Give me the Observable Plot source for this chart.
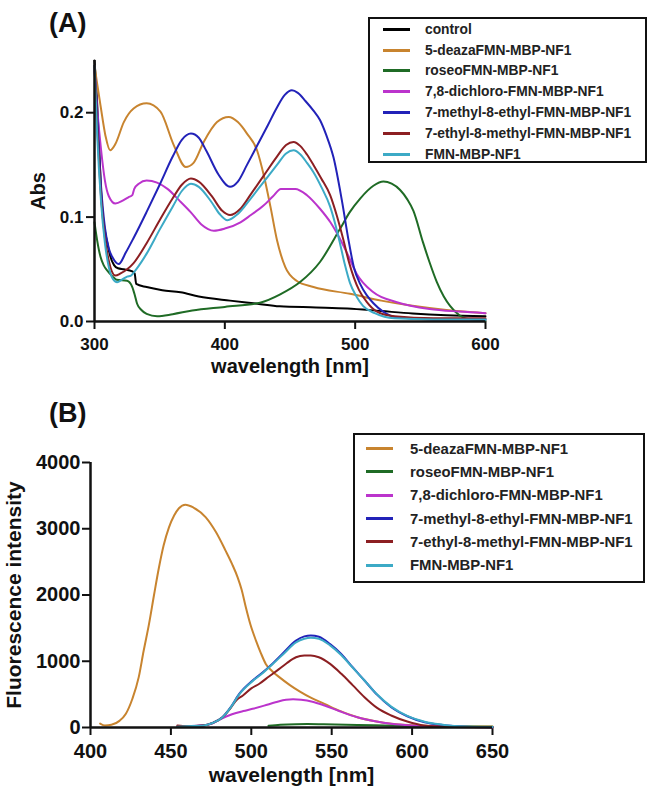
<!DOCTYPE html>
<html>
<head>
<meta charset="utf-8">
<script src="https://cdn.jsdelivr.net/npm/d3@7"></script>
<script src="https://cdn.jsdelivr.net/npm/@observablehq/plot@0.6"></script>
<style>
  html, body { margin: 0; padding: 0; background: #fff; }
  #root { position: relative; width: 648px; height: 800px; background: #fff; font-family: "Liberation Sans", Arial, sans-serif; overflow: hidden; }
  .panel { position: absolute; left: 0; }
  .ptitle { position: absolute; font-size: 27px; font-weight: bold; line-height: 27px; color: #111; }
  .legend { position: absolute; box-sizing: border-box; border: 2px solid #111; background: #fff; font-weight: bold; color: #222; }
  .legend .row { display: flex; align-items: center; white-space: nowrap; }
  .legend .sw { display: inline-block; height: 3px; flex: none; }
</style>
</head>
<body>
<div id="root">
  <div id="plotA" class="panel" style="top:0"></div>
  <div id="plotB" class="panel" style="top:390px"></div>
  <div class="ptitle" style="left:49px;top:10px">(A)</div>
  <div class="ptitle" style="left:49px;top:400px">(B)</div>
  <div id="legendA" class="legend" style="left:368px;top:17px;width:279px;height:146px;padding-top:0px;"></div>
  <div id="legendB" class="legend" style="left:353px;top:433px;width:292px;height:150px;padding-top:2px;"></div>
</div>
<script>
// ---------- series names & colours ----------
const seriesNames = [
  "control",
  "5-deazaFMN-MBP-NF1",
  "roseoFMN-MBP-NF1",
  "7,8-dichloro-FMN-MBP-NF1",
  "7-methyl-8-ethyl-FMN-MBP-NF1",
  "7-ethyl-8-methyl-FMN-MBP-NF1",
  "FMN-MBP-NF1"
];
const seriesColors = ["#000000", "#c8842f", "#1f6b25", "#bb34cc", "#2222b8", "#8c1f22", "#3caac6"];

// ---------- panel A: absorbance [wavelength nm, Abs] ----------
const absControl = [[300,0.25],[302,0.21],[303.5,0.17],[305,0.125],[307,0.095],[309.7,0.076],[312,0.063],[315,0.054],[318,0.051],[322.5,0.050],[329,0.048],[330.8,0.046],[332,0.036],[340,0.033],[352,0.030],[366,0.028],[380,0.024],[404,0.020],[425,0.017],[442,0.0145],[470,0.0135],[494,0.0125],[520,0.010],[544,0.0077],[570,0.006],[600,0.005]];
const absDeaza = [[300,0.245],[302,0.228],[304.6,0.207],[308.4,0.178],[312,0.164],[316,0.170],[322.5,0.191],[330,0.204],[340,0.209],[350.6,0.201],[360.8,0.169],[370,0.148],[376,0.152],[383.8,0.172],[394,0.191],[403,0.196],[410,0.191],[417,0.180],[424.7,0.164],[429.7,0.141],[435,0.110],[440,0.078],[446.4,0.052],[455,0.039],[468,0.033],[496,0.0265],[520,0.020],[544,0.015],[570,0.011],[600,0.008]];
const absRoseo = [[300,0.095],[302,0.078],[304.6,0.062],[307,0.054],[309.7,0.049],[314,0.043],[317,0.040],[325,0.039],[329,0.033],[331,0.025],[332.7,0.017],[336,0.011],[340,0.0073],[348,0.005],[360,0.007],[375,0.0105],[400,0.014],[427,0.018],[442.5,0.026],[458,0.038],[473,0.057],[488.5,0.089],[496,0.105],[504,0.118],[514,0.130],[521.7,0.134],[528,0.132],[534.5,0.126],[540,0.117],[544.7,0.106],[552,0.076],[557,0.057],[562.6,0.038],[568,0.024],[572.8,0.015],[580,0.006],[585.6,0.0026],[600,0.001]];
const absDichloro = [[300,0.24],[302,0.205],[305,0.165],[308,0.135],[311,0.12],[316,0.113],[322,0.116],[326,0.119],[329,0.121],[330.5,0.127],[334,0.132],[340,0.135],[348,0.133],[356,0.127],[365,0.116],[373.6,0.105],[382,0.093],[391.5,0.087],[400,0.089],[412,0.095],[420,0.102],[429.7,0.111],[437,0.120],[443,0.127],[454,0.127],[463,0.121],[473,0.108],[481,0.095],[488,0.080],[494,0.065],[501,0.046],[514,0.028],[532,0.0185],[557,0.012],[580,0.0095],[600,0.008]];
const absMethylEthyl = [[300,0.245],[302,0.2],[305,0.13],[308,0.09],[311,0.07],[314,0.061],[318.6,0.055],[324,0.066],[330,0.080],[340,0.105],[350,0.131],[360,0.158],[367,0.174],[374,0.180],[380,0.176],[386,0.163],[395,0.141],[404,0.129],[410,0.134],[417,0.150],[425,0.169],[433,0.188],[440,0.205],[446,0.217],[451.5,0.2215],[456,0.219],[462,0.211],[468,0.202],[473,0.193],[478,0.178],[483.4,0.157],[489.8,0.116],[494.9,0.078],[499,0.052],[503.8,0.036],[509,0.025],[514,0.0175],[522,0.009],[532,0.004],[560,0.002],[600,0.002]];
const absEthylMethyl = [[300,0.245],[302,0.19],[305,0.12],[308,0.08],[311,0.058],[316,0.044],[320,0.046],[325,0.05],[330,0.056],[340,0.075],[350,0.097],[360,0.118],[367,0.131],[374,0.137],[380,0.134],[390,0.120],[398,0.106],[404,0.102],[412,0.108],[420,0.122],[430,0.140],[440,0.158],[447,0.169],[452.7,0.172],[458,0.168],[463,0.160],[468,0.150],[474,0.137],[480.8,0.121],[486,0.101],[491,0.078],[495,0.058],[499,0.042],[503,0.030],[509,0.0185],[516,0.010],[530,0.005],[560,0.003],[600,0.003]];
const absFMN = [[300,0.245],[302,0.18],[305,0.115],[308,0.075],[311,0.052],[314,0.041],[317.4,0.0377],[321,0.040],[325,0.043],[328,0.044],[332,0.050],[340,0.065],[350,0.088],[360,0.110],[367,0.125],[374,0.132],[380,0.129],[390,0.114],[396,0.103],[402,0.097],[410,0.103],[420,0.118],[430,0.134],[440,0.150],[447,0.161],[452.7,0.164],[458,0.160],[463,0.152],[468,0.143],[474,0.129],[480.8,0.110],[485,0.092],[488.5,0.074],[492,0.055],[496,0.037],[501,0.024],[506,0.015],[515,0.008],[530,0.003],[560,0.002],[600,0.002]];

// ---------- panel B: fluorescence [wavelength nm, intensity] ----------
const flDeaza = [[406,60],[409,30],[413,40],[418,100],[422,207],[426,430],[430,760],[433,1150],[436.4,1564],[439.5,2000],[442.6,2418],[445.5,2750],[448.8,3021],[452,3200],[455,3310],[459,3363],[464,3320],[471.7,3172],[478,2950],[484,2670],[488,2470],[491.5,2267],[494,2080],[496.6,1815],[499.5,1550],[502.9,1312],[506,1120],[509,960],[513,850],[517.4,760],[524,640],[530,545],[537,450],[545.5,357],[555,250],[566,155],[577,95],[587,56],[600,35],[620,22],[650,15]];
const flRoseo = [[510.7,25],[518,40],[527.8,50],[535,52],[545,48],[566,38],[590,25],[620,15],[650,10]];
const flDichloro = [[455,10],[462,18],[470,30],[476,65],[482,140],[486,181],[490,215],[495,248],[500.8,282],[508,330],[515,380],[521.6,420],[526,425],[531,418],[538,390],[545.5,332],[555,245],[566,155],[577,95],[587,56],[600,30],[620,15],[650,5]];
const flMethylEthyl = [[454,15],[460,20],[469.6,30],[476,70],[482,155],[487,300],[492.5,508],[500.8,709],[507,830],[513,960],[520,1130],[527.8,1312],[533,1375],[537,1390],[542,1370],[549,1260],[555.9,1111],[563,910],[570.4,709],[578,500],[587,306],[597,170],[607.8,80],[618,40],[628.6,15],[650,5]];
const flEthylMethyl = [[454,30],[460,22],[469.6,30],[476,68],[482,150],[487,290],[491,420],[494.6,480],[500,590],[505,660],[511,770],[517.4,885],[522,970],[527.8,1060],[533,1085],[537,1086],[542,1060],[549,960],[556,810],[563,640],[570.4,457],[578,300],[587,181],[597,90],[607.6,30],[620,12],[650,5]];
const flFMN = [[454,10],[460,18],[469.6,28],[476,68],[482,150],[487,295],[492.5,500],[500.8,700],[507,820],[513,950],[520,1110],[527.8,1285],[533,1340],[537,1355],[542,1340],[549,1240],[555.9,1095],[563,905],[570.4,710],[578,505],[587,315],[597,175],[607.8,88],[618,45],[628.6,18],[650,6]];

// ---------- ticks ----------
const absXTicks = [300, 400, 500, 600];
const absYTicks = [0, 0.1, 0.2];
const flXTicks = [400, 450, 500, 550, 600, 650];
const flYTicks = [0, 1000, 2000, 3000, 4000];

// ---------- tables ----------
const toRows = (pairs) => pairs.flatMap(([series, pts]) => pts.map(([nm, v]) => ({series, nm, v})));
const absData = toRows([
  [seriesNames[0], absControl], [seriesNames[1], absDeaza], [seriesNames[2], absRoseo],
  [seriesNames[3], absDichloro], [seriesNames[4], absMethylEthyl], [seriesNames[5], absEthylMethyl],
  [seriesNames[6], absFMN]
]);
const flData = toRows([
  [seriesNames[1], flDeaza], [seriesNames[2], flRoseo], [seriesNames[3], flDichloro],
  [seriesNames[4], flMethylEthyl], [seriesNames[5], flEthylMethyl], [seriesNames[6], flFMN]
]);

const svgStyle = "font-family:'Liberation Sans',Arial,sans-serif;font-weight:bold;background:transparent;overflow:visible;color:#111;";

const plotA = Plot.plot({
  width: 648, height: 390,
  marginLeft: 94, marginRight: 163, marginTop: 60, marginBottom: 69,
  style: svgStyle,
  x: {domain: [300, 600]},
  y: {domain: [0, 0.25]},
  color: {domain: seriesNames, range: seriesColors},
  marks: [
    Plot.axisX({ticks: absXTicks, tickSize: 8, tickPadding: 8, strokeWidth: 2, fontSize: 17, fontWeight: "bold", label: null}),
    Plot.axisY({ticks: absYTicks, tickFormat: d3.format(".1f"), tickSize: 8, tickPadding: 3, strokeWidth: 2, fontSize: 17, fontWeight: "bold", label: null}),
    Plot.line(absData, {x: "nm", y: "v", z: "series", stroke: "series", strokeWidth: 2, curve: "monotone-x"}),
    Plot.ruleX([300], {strokeWidth: 2.5}),
    Plot.ruleY([0], {strokeWidth: 2.5}),
    Plot.text(["Abs"], {text: d => d, frameAnchor: "left", dx: -56, rotate: -90, textAnchor: "middle", lineAnchor: "middle", fontSize: 20, fontWeight: "bold"}),
    Plot.text(["wavelength [nm]"], {text: d => d, frameAnchor: "bottom", dy: 45, textAnchor: "middle", lineAnchor: "middle", fontSize: 20, fontWeight: "bold"})
  ]
});
document.getElementById("plotA").append(plotA);

const plotB = Plot.plot({
  width: 648, height: 410,
  marginLeft: 90, marginRight: 156, marginTop: 72, marginBottom: 73,
  style: svgStyle,
  x: {domain: [400, 650]},
  y: {domain: [0, 4000]},
  color: {domain: seriesNames, range: seriesColors},
  marks: [
    Plot.axisX({ticks: flXTicks, tickSize: 8, tickPadding: 8, strokeWidth: 2, fontSize: 20, fontWeight: "bold", label: null}),
    Plot.axisY({ticks: flYTicks, tickFormat: d3.format("d"), tickSize: 8, tickPadding: 2, strokeWidth: 2, fontSize: 20, fontWeight: "bold", label: null}),
    Plot.line(flData, {x: "nm", y: "v", z: "series", stroke: "series", strokeWidth: 2, curve: "monotone-x"}),
    Plot.ruleX([400], {strokeWidth: 2.5}),
    Plot.ruleY([0], {strokeWidth: 2.5}),
    Plot.text(["Fluorescence intensity"], {text: d => d, frameAnchor: "left", dx: -76, rotate: -90, textAnchor: "middle", lineAnchor: "middle", fontSize: 21, fontWeight: "bold"}),
    Plot.text(["wavelength [nm]"], {text: d => d, frameAnchor: "bottom", dy: 48, textAnchor: "middle", lineAnchor: "middle", fontSize: 21, fontWeight: "bold"})
  ]
});
document.getElementById("plotB").append(plotB);

// ---------- HTML legends ----------
function buildLegend(el, names, opts) {
  for (const name of names) {
    const row = document.createElement("div");
    row.className = "row";
    row.style.height = opts.rowH + "px";
    row.style.fontSize = opts.fontSize + "px";
    const sw = document.createElement("span");
    sw.className = "sw";
    sw.style.width = "27px";
    sw.style.marginLeft = opts.swLeft + "px";
    sw.style.marginRight = opts.gap + "px";
    sw.style.background = seriesColors[seriesNames.indexOf(name)];
    const tx = document.createElement("span");
    tx.textContent = name;
    row.append(sw, tx);
    el.append(row);
  }
}
buildLegend(document.getElementById("legendA"), seriesNames, {rowH: 20.8, fontSize: 13.8, swLeft: 13, gap: 15});
buildLegend(document.getElementById("legendB"), seriesNames.slice(1), {rowH: 23.3, fontSize: 14.9, swLeft: 11, gap: 17});
</script>
</body>
</html>
